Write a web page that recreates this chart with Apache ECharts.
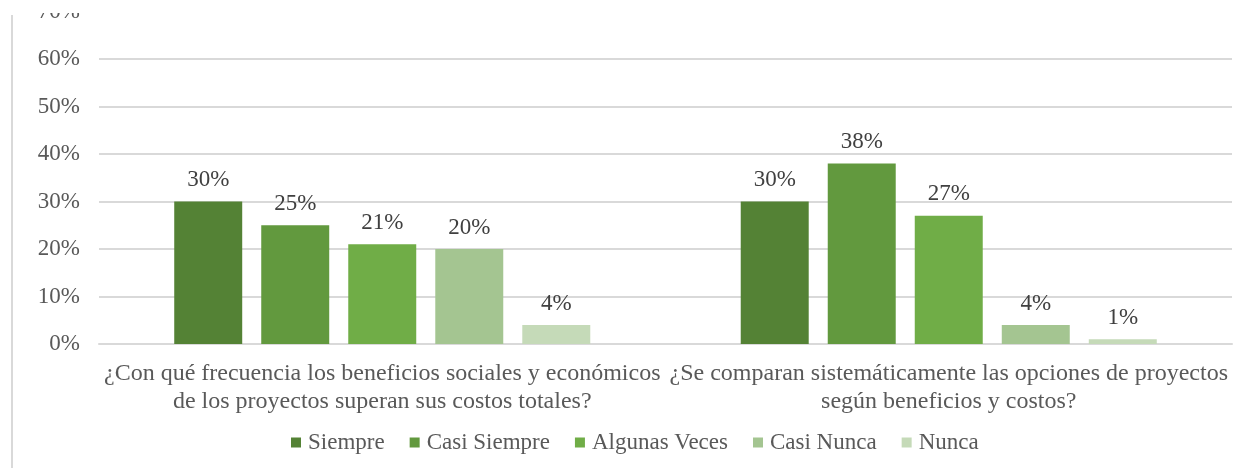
<!DOCTYPE html>
<html>
<head>
<meta charset="utf-8">
<script src="https://cdn.jsdelivr.net/npm/echarts@6/dist/echarts.min.js"></script>
<style>
  html, body { margin: 0; padding: 0; background: #fff; }
  #chart { width: 1240px; height: 468px; }
</style>
</head>
<body>
<div id="chart"></div>
<script>
// preguntas (eje x)
const categories = [
  '¿Con qué frecuencia los beneficios sociales y económicos\nde los proyectos superan sus costos totales?',
  '¿Se comparan sistemáticamente las opciones de proyectos\nsegún beneficios y costos?'
];
const seriesNames = ['Siempre', 'Casi Siempre', 'Algunas Veces', 'Casi Nunca', 'Nunca'];
// porcentajes por respuesta
const siempre = [30, 30];
const casiSiempre = [25, 38];
const algunasVeces = [21, 27];
const casiNunca = [20, 4];
const nunca = [4, 1];
const yTicks = [0, 10, 20, 30, 40, 50, 60, 70];

const colors = ['#548235', '#62993E', '#70AD47', '#A4C591', '#C5DAB8'];
const font = '"Liberation Serif", "Times New Roman", serif';
const values = [siempre, casiSiempre, algunasVeces, casiNunca, nunca];

const chart = echarts.init(document.getElementById('chart'));

const series = seriesNames.map((name, i) => ({
  name: name,
  type: 'bar',
  data: values[i],
  barWidth: '12%',
  barGap: '28%',
  itemStyle: { color: colors[i] },
  label: {
    show: true,
    position: 'top',
    distance: 10,
    formatter: '{c}%',
    color: '#404040',
    fontFamily: font,
    fontSize: 23
  }
}));

chart.setOption({
  backgroundColor: '#fff',
  animation: false,
  color: colors,
  grid: { left: 99, right: 8, top: 11, bottom: 124 },
  legend: {
    data: seriesNames,
    left: 286,
    top: 426,
    icon: 'rect',
    itemWidth: 10,
    itemHeight: 10,
    itemGap: 25,
    textStyle: { color: '#595959', fontFamily: font, fontSize: 23, padding: [0, 0, 0, 2] }
  },
  xAxis: {
    type: 'category',
    data: categories,
    axisLine: { lineStyle: { color: '#d9d9d9', width: 2 } },
    axisTick: { show: false },
    axisLabel: {
      interval: 0,
      margin: 16,
      color: '#595959',
      fontFamily: font,
      fontSize: 24,
      lineHeight: 28
    }
  },
  yAxis: {
    type: 'value',
    min: yTicks[0],
    max: yTicks[yTicks.length - 1],
    interval: 10,
    axisLine: { show: false },
    axisTick: { show: false },
    splitLine: { lineStyle: { color: '#d9d9d9', width: 2 } },
    axisLabel: {
      formatter: '{value}%',
      margin: 19,
      color: '#595959',
      fontFamily: font,
      fontSize: 23
    }
  },
  graphic: [
    {
      type: 'rect',
      z: 100,
      shape: { x: 0, y: 0, width: 1240, height: 13 },
      style: { fill: '#fff' }
    },
    {
      type: 'line',
      z: 101,
      shape: { x1: 12, y1: 15, x2: 12, y2: 468 },
      style: { stroke: '#d9d9d9', lineWidth: 2 }
    }
  ],
  series: series
});
</script>
</body>
</html>
